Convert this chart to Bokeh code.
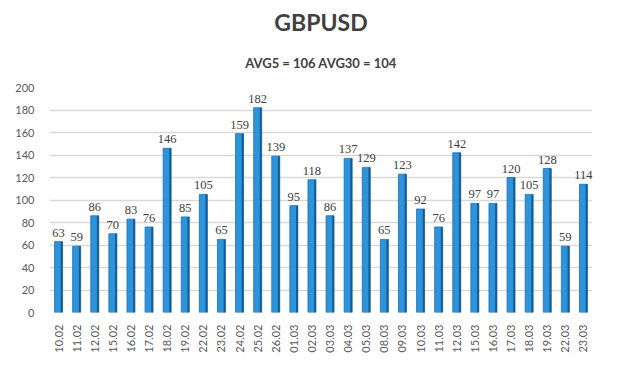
from bokeh.plotting import figure
from bokeh.models import ColumnDataSource, LabelSet, Title, FactorRange, Range1d
from bokeh.transform import dodge
from bokeh.embed import file_html
from bokeh.resources import INLINE
import math

dates = ["10.02", "11.02", "12.02", "15.02", "16.02", "17.02", "18.02", "19.02",
         "22.02", "23.02", "24.02", "25.02", "26.02", "01.03", "02.03", "03.03",
         "04.03", "05.03", "08.03", "09.03", "10.03", "11.03", "12.03", "15.03",
         "16.03", "17.03", "18.03", "19.03", "22.03", "23.03"]
volatility = [63, 59, 86, 70, 83, 76, 146, 85, 105, 65, 159, 182, 139, 95, 118, 86,
              137, 129, 65, 123, 92, 76, 142, 97, 97, 120, 105, 128, 59, 114]
y_ticks = [0, 20, 40, 60, 80, 100, 120, 140, 160, 180, 200]
title_text = "GBPUSD"
subtitle_text = "AVG5 = 106 AVG30 = 104"

FONT = "Lato"
TXT = "#404040"

src = ColumnDataSource(dict(x=dates, y=volatility, lbl=[str(v) for v in volatility]))

p = figure(width=604, height=371, x_range=FactorRange(*dates), y_range=Range1d(0, 200),
           output_backend="svg", toolbar_location=None, title=None,
           min_border_left=49, min_border_right=12, min_border_top=87, min_border_bottom=59,
           background_fill_color="white", border_fill_color="white")
p.outline_line_color = None

p.add_layout(Title(text=subtitle_text, align="center", text_font=FONT, text_font_size="13px",
                   text_font_style="bold", text_color=TXT, standoff=34), "above")
p.add_layout(Title(text=title_text, align="center", text_font=FONT, text_font_size="23px",
                   text_font_style="bold", text_color=TXT, standoff=0), "above")

# bar body
p.vbar(x="x", top="y", width=0.44, source=src, fill_color="#2D94DC",
       line_color="#1E6FAE", line_width=0.8)
# dark side of the 3D bars
p.vbar(x=dodge("x", 0.17, range=p.x_range), top="y", width=0.1, source=src,
       fill_color="#155A92", line_color=None)

labels = LabelSet(x="x", y="y", text="lbl", source=src, text_align="center",
                  text_baseline="bottom", y_offset=5, text_font=FONT,
                  text_font_size="12.5px", text_color=TXT)
p.add_layout(labels)

p.yaxis.ticker = y_ticks
p.yaxis.axis_line_color = None
p.yaxis.major_tick_line_color = None
p.yaxis.minor_tick_line_color = None
p.yaxis.major_label_text_font = FONT
p.yaxis.major_label_text_font_size = "11px"
p.yaxis.major_label_text_color = "#595959"
p.yaxis.major_label_standoff = 9

p.xaxis.axis_line_color = None
p.xaxis.major_tick_line_color = None
p.xaxis.major_label_orientation = math.pi / 2
p.xaxis.major_label_text_font = FONT
p.xaxis.major_label_text_font_size = "11px"
p.xaxis.major_label_text_color = "#595959"
p.xaxis.major_label_standoff = 6
p.x_range.range_padding = 0.0

p.xgrid.grid_line_color = None
p.ygrid.grid_line_color = "#D9D9D9"
p.ygrid.grid_line_width = 1.5

open("out.html", "w").write(file_html(p, INLINE))
